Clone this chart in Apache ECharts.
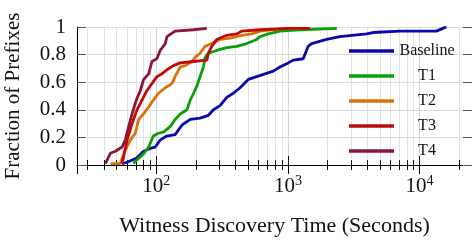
<!DOCTYPE html>
<html>
<head>
<meta charset="utf-8">
<script src="https://cdn.jsdelivr.net/npm/echarts@6.0.0/dist/echarts.min.js"></script>
<style>
  html, body { margin: 0; padding: 0; background: #fff; }
  #main { width: 472px; height: 242px; }
</style>
</head>
<body>
<div id="main"></div>
<script>
// series names and colours (legend order)
const seriesNames = ['Baseline', 'T1', 'T2', 'T3', 'T4']
const seriesColors = ['#0a0aaa', '#0a9e0a', '#d8720a', '#c00a0a', '#8c1438']

// discovery time in seconds / fraction of prefixes
const baselineTime = [55, 60, 71, 80, 90, 98, 107, 120, 139, 157, 181, 215, 249, 272, 305, 343, 385, 433, 500, 579, 669, 774, 869, 1005, 1097, 1306, 1425, 1513, 1965, 2477, 3948, 4430, 7050, 13390, 15020, 15930]
const baselineFrac = [0.01, 0.02, 0.05, 0.10, 0.12, 0.13, 0.18, 0.21, 0.22, 0.29, 0.33, 0.34, 0.36, 0.40, 0.43, 0.49, 0.52, 0.56, 0.62, 0.64, 0.66, 0.68, 0.71, 0.74, 0.76, 0.77, 0.86, 0.88, 0.91, 0.93, 0.95, 0.96, 0.97, 0.97, 0.99, 1.0]

const t1Time = [67, 73.5, 80, 87.5, 95, 104, 114, 128, 139, 152, 171, 181, 192, 203, 215, 228, 235, 249, 288, 343, 408, 486, 579, 614, 709, 869, 1233, 2350]
const t1Frac = [0.01, 0.05, 0.08, 0.13, 0.21, 0.23, 0.24, 0.28, 0.33, 0.37, 0.40, 0.47, 0.52, 0.57, 0.64, 0.71, 0.78, 0.81, 0.83, 0.85, 0.86, 0.88, 0.91, 0.93, 0.95, 0.97, 0.98, 0.99]

const t2Time = [45, 53.4, 55, 58.2, 63.6, 69.3, 73.5, 80, 87.5, 95, 104, 117, 131.5, 139, 152, 166, 186, 197, 215, 235, 264, 305, 364, 446, 531, 614, 949, 1345]
const t2Frac = [0.01, 0.01, 0.05, 0.11, 0.18, 0.23, 0.33, 0.37, 0.42, 0.47, 0.52, 0.56, 0.59, 0.64, 0.71, 0.72, 0.75, 0.78, 0.81, 0.86, 0.88, 0.91, 0.92, 0.94, 0.95, 0.97, 0.99, 0.99]

const t3Time = [55, 56.5, 60, 65.5, 71.4, 77.9, 85, 92.7, 101, 110, 120.5, 135, 152, 192, 242, 249, 264, 288, 343, 408, 446, 614, 1035, 1468]
const t3Frac = [0.01, 0.06, 0.18, 0.30, 0.40, 0.47, 0.54, 0.59, 0.64, 0.66, 0.69, 0.72, 0.74, 0.75, 0.76, 0.81, 0.86, 0.91, 0.94, 0.95, 0.97, 0.98, 0.99, 0.99]

const t4Time = [41.1, 44.8, 48.9, 55, 58.2, 61.7, 65.5, 70.5, 75.7, 80.2, 87.5, 92.7, 101, 107, 117, 120.5, 139, 192, 242]
const t4Frac = [0.01, 0.085, 0.10, 0.13, 0.18, 0.28, 0.37, 0.47, 0.54, 0.62, 0.66, 0.75, 0.77, 0.83, 0.88, 0.93, 0.97, 0.98, 0.99]

const allTimes = [baselineTime, t1Time, t2Time, t3Time, t4Time]
const allFracs = [baselineFrac, t1Frac, t2Frac, t3Frac, t4Frac]

const zip = (xs, ys) => xs.map((x, i) => [x, ys[i]])

const font = 'Liberation Serif'

const series = seriesNames.map((name, i) => ({
  name: name,
  type: 'line',
  symbol: 'none',
  xAxisIndex: 0,
  yAxisIndex: 0,
  color: seriesColors[i],
  lineStyle: { width: 2.8, color: seriesColors[i] },
  data: zip(allTimes[i], allFracs[i])
}))

// log-axis label: 10^n
const powLabel = (v) => {
  const e = Math.log10(v)
  if (Math.abs(e - Math.round(e)) > 1e-6) return ''
  return '{b|10}{s|' + Math.round(e) + '}'
}

const xBase = {
  type: 'log',
  logBase: 10,
  min: 25,
  max: 25000,
  gridIndex: 0,
  axisLine: { show: true, lineStyle: { color: '#000', width: 1 } },
  axisTick: { show: true, inside: true, length: 9, lineStyle: { color: '#000', width: 1 } },
  minorTick: { show: true, splitNumber: 9, length: 5, lineStyle: { color: '#000', width: 1 } },
  splitLine: { show: true, lineStyle: { color: '#d6d6d6', width: 1 } },
  minorSplitLine: { show: true, lineStyle: { color: '#e2e2e2', width: 1 } }
}

const yBase = {
  type: 'value',
  min: 0,
  max: 1,
  interval: 0.2,
  gridIndex: 0,
  axisLine: { show: true, lineStyle: { color: '#000', width: 1 } },
  axisTick: { show: true, inside: true, length: 9, lineStyle: { color: '#555', width: 1 } },
  splitLine: { show: true, lineStyle: { color: '#dcdcdc', width: 1 } }
}

const option = {
  animation: false,
  backgroundColor: '#fff',
  textStyle: { fontFamily: font },
  grid: { left: 77, right: 0, top: 27, bottom: 77, containLabel: false, outerBoundsMode: 'none' },
  legend: {
    data: seriesNames,
    orient: 'vertical',
    left: 344,
    top: 38,
    itemGap: 9,
    itemWidth: 45,
    itemHeight: 3.5,
    icon: 'rect',
    formatter: (name) => '{c|' + name + '}',
    textStyle: {
      fontFamily: font,
      fontSize: 16,
      color: '#111',
      rich: { c: { width: 56, align: 'center', fontFamily: font, fontSize: 16, color: '#111' } }
    }
  },
  xAxis: [
    {
      ...xBase,
      position: 'bottom',
      name: 'Witness Discovery Time (Seconds)',
      nameLocation: 'middle',
      nameGap: 50,
      nameTextStyle: { fontFamily: font, fontSize: 22, color: '#111' },
      axisLabel: {
        show: true,
        margin: 9,
        showMinLabel: false,
        showMaxLabel: false,
        formatter: powLabel,
        rich: {
          b: { fontFamily: font, fontSize: 21, color: '#111', verticalAlign: 'bottom', lineHeight: 23 },
          s: { fontFamily: font, fontSize: 14, color: '#111', verticalAlign: 'top' }
        }
      }
    },
    {
      ...xBase,
      position: 'top',
      axisLabel: { show: false },
      splitLine: { show: false },
      minorSplitLine: { show: false }
    }
  ],
  yAxis: [
    {
      ...yBase,
      position: 'left',
      name: 'Fraction of Prefixes',
      nameLocation: 'middle',
      nameGap: 53,
      nameTextStyle: { fontFamily: font, fontSize: 21, color: '#111' },
      axisLabel: { show: true, margin: 11, fontFamily: font, fontSize: 21, color: '#111' }
    },
    {
      ...yBase,
      position: 'right',
      axisLabel: { show: false },
      splitLine: { show: false }
    }
  ],
  series: series
}

const myChart = echarts.init(document.getElementById('main'), null, { renderer: 'canvas' })
myChart.setOption(option)
</script>
</body>
</html>
